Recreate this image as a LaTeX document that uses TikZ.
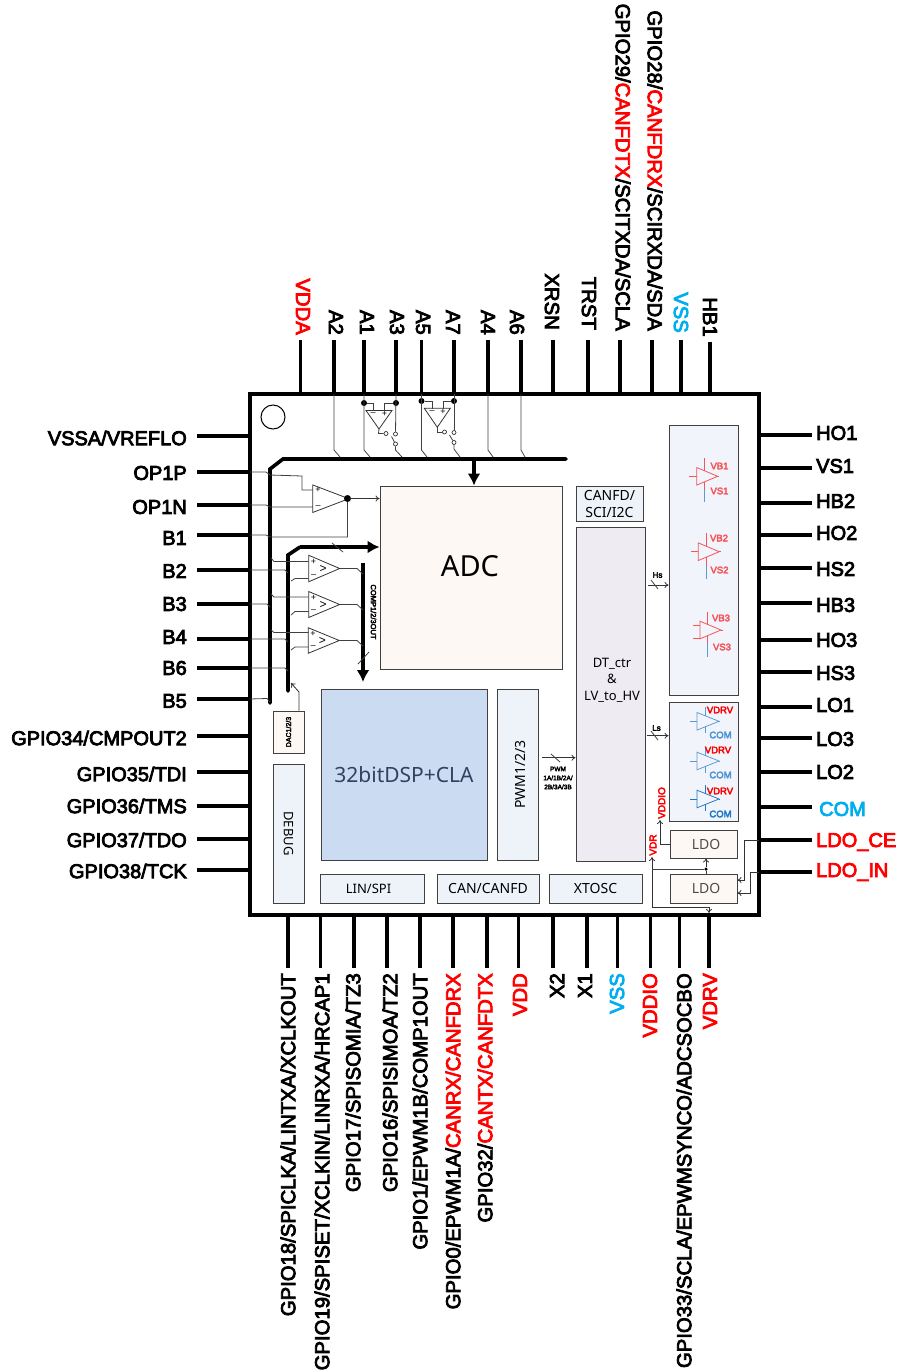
\documentclass[tikz,border=0pt]{standalone}
\usepackage{xcolor}
\usepackage{fontspec}
\usetikzlibrary{shapes.geometric,arrows.meta}
\setmainfont{Liberation Sans}
\newfontfamily\pinfont[FakeBold=4]{Liberation Sans}
\newfontfamily\blockfont{Noto Sans}
\definecolor{cream}{HTML}{FDF8F3}
\definecolor{pale}{HTML}{EEF3FA}
\definecolor{lilac}{HTML}{EEEBF3}
\definecolor{dspblue}{HTML}{CBDCF2}
\definecolor{dsptext}{HTML}{2F4260}
\definecolor{drvbox}{HTML}{F1F5FB}
\definecolor{pinred}{HTML}{FF0000}
\definecolor{pincyan}{HTML}{00AEEF}
\definecolor{hsred}{HTML}{F4565A}
\definecolor{lsblue}{HTML}{5B9BD5}
\definecolor{lsdeep}{HTML}{1F78C8}

\begin{document}
\begin{tikzpicture}[x=1pt,y=-1pt,
pinl/.style={font=\pinfont\fontsize{20}{22}\selectfont,anchor=east,inner xsep=10pt,inner ysep=0pt},
pinr/.style={font=\pinfont\fontsize{20}{22}\selectfont,anchor=west,inner xsep=4pt,inner ysep=0pt},
pint/.style={font=\pinfont\fontsize{20.3}{22}\selectfont,anchor=east,rotate=-90,inner xsep=5pt,inner ysep=0pt},
pinb/.style={font=\pinfont\fontsize{20.3}{22}\selectfont,anchor=east,rotate=90,inner xsep=5pt,inner ysep=0pt},
pin/.style={line width=3.4pt,draw=black},
blk/.style={draw=black!75,line width=0.9pt,inner sep=0pt,align=center,font=\blockfont\fontsize{14}{17}\selectfont},
txt/.style={inner sep=0pt,align=center,font=\blockfont\fontsize{13}{16.5}\selectfont},
tiny/.style={inner sep=0pt,align=center,font=\pinfont\fontsize{6.5}{9}\selectfont},
sgn/.style={inner sep=0pt,font=\fontsize{9}{9}\selectfont},
opamp/.style={isosceles triangle,isosceles triangle stretches,draw=black!80,line width=0.8pt,inner sep=0pt,outer sep=0pt,anchor=lower side},
drvhi/.style={opamp,draw=hsred,minimum height=21pt,minimum width=17.6pt},
drvlo/.style={opamp,draw=lsblue,minimum height=22pt,minimum width=17.6pt},
drvtxt/.style={inner sep=0pt,font=\pinfont\fontsize{9.5}{10}\selectfont},
dot/.style={circle,fill=black,inner sep=0pt,minimum size=#1},
term/.style={circle,draw=black!80,fill=white,line width=0.7pt,inner sep=0pt,minimum size=4pt},
wire/.style={draw=black!75,line width=0.8pt},
arr/.style={-{To[length=4pt,width=6pt]},draw=black!80,line width=0.8pt},
bus/.style={line width=3.6pt,draw=black,line cap=round},
busarr/.style={line width=3.6pt,draw=black,-{Latex[length=12pt,width=13pt]}}]
\useasboundingbox (0,0) rectangle (898,1371);

% package outline
\node[draw=black,line width=3.6pt,minimum width=509pt,minimum height=521pt,inner sep=0pt] (chip) at (504.5,654.5) {};
\node[circle,draw=black,line width=1pt,minimum size=24pt,inner sep=0pt] (mark) at (273,417) {};

% left pins
\node[pinl] (vssa) at (197,438) {VSSA/VREFLO}; \coordinate (vssap) at (250,436); \draw[pin] (vssa.east |- vssap) -- (vssap);
\node[pinl] (op1p) at (197,473) {OP1P}; \coordinate (op1pp) at (250,472); \draw[pin] (op1p.east |- op1pp) -- (op1pp);
\node[pinl] (op1n) at (197,507) {OP1N}; \coordinate (op1np) at (250,505); \draw[pin] (op1n.east |- op1np) -- (op1np);
\node[pinl] (b1) at (197,538) {B1}; \coordinate (b1p) at (250,535); \draw[pin] (b1.east |- b1p) -- (b1p);
\node[pinl] (b2) at (197,571) {B2}; \coordinate (b2p) at (250,570); \draw[pin] (b2.east |- b2p) -- (b2p);
\node[pinl] (b3) at (197,604) {B3}; \coordinate (b3p) at (250,604); \draw[pin] (b3.east |- b3p) -- (b3p);
\node[pinl] (b4) at (197,637) {B4}; \coordinate (b4p) at (250,639); \draw[pin] (b4.east |- b4p) -- (b4p);
\node[pinl] (b6) at (197,668) {B6}; \coordinate (b6p) at (250,668); \draw[pin] (b6.east |- b6p) -- (b6p);
\node[pinl] (b5) at (197,701) {B5}; \coordinate (b5p) at (250,699); \draw[pin] (b5.east |- b5p) -- (b5p);
\node[pinl] (gp34) at (197,738) {GPIO34/CMPOUT2}; \coordinate (gp34p) at (250,736); \draw[pin] (gp34.east |- gp34p) -- (gp34p);
\node[pinl] (gp35) at (197,774) {GPIO35/TDI}; \coordinate (gp35p) at (250,772); \draw[pin] (gp35.east |- gp35p) -- (gp35p);
\node[pinl] (gp36) at (197,806) {GPIO36/TMS}; \coordinate (gp36p) at (250,806); \draw[pin] (gp36.east |- gp36p) -- (gp36p);
\node[pinl] (gp37) at (197,840) {GPIO37/TDO}; \coordinate (gp37p) at (250,839); \draw[pin] (gp37.east |- gp37p) -- (gp37p);
\node[pinl] (gp38) at (197,871) {GPIO38/TCK}; \coordinate (gp38p) at (250,870); \draw[pin] (gp38.east |- gp38p) -- (gp38p);

% right pins
\node[pinr] (ho1) at (812,433) {HO1}; \coordinate (ho1p) at (759,435); \draw[pin] (ho1.west |- ho1p) -- (ho1p);
\node[pinr] (vs1) at (812,466) {VS1}; \coordinate (vs1p) at (759,468); \draw[pin] (vs1.west |- vs1p) -- (vs1p);
\node[pinr] (hb2) at (812,501) {HB2}; \coordinate (hb2p) at (759,503); \draw[pin] (hb2.west |- hb2p) -- (hb2p);
\node[pinr] (ho2) at (812,533) {HO2}; \coordinate (ho2p) at (759,535); \draw[pin] (ho2.west |- ho2p) -- (ho2p);
\node[pinr] (hs2) at (812,569) {HS2}; \coordinate (hs2p) at (759,568); \draw[pin] (hs2.west |- hs2p) -- (hs2p);
\node[pinr] (hb3) at (812,605) {HB3}; \coordinate (hb3p) at (759,603); \draw[pin] (hb3.west |- hb3p) -- (hb3p);
\node[pinr] (ho3) at (812,640) {HO3}; \coordinate (ho3p) at (759,640); \draw[pin] (ho3.west |- ho3p) -- (ho3p);
\node[pinr] (hs3) at (812,673) {HS3}; \coordinate (hs3p) at (759,672); \draw[pin] (hs3.west |- hs3p) -- (hs3p);
\node[pinr] (lo1) at (812,705) {LO1}; \coordinate (lo1p) at (759,707); \draw[pin] (lo1.west |- lo1p) -- (lo1p);
\node[pinr] (lo3) at (812,739) {LO3}; \coordinate (lo3p) at (759,738); \draw[pin] (lo3.west |- lo3p) -- (lo3p);
\node[pinr] (lo2) at (812,772) {LO2}; \coordinate (lo2p) at (759,772); \draw[pin] (lo2.west |- lo2p) -- (lo2p);
\node[pinr,text=pincyan,inner xsep=7pt] (comr) at (812,809) {COM}; \coordinate (comrp) at (759,807); \draw[pin] (comr.west |- comrp) -- (comrp);
\node[pinr,text=pinred] (ldoce) at (812,842) {LDO\_CE}; \coordinate (ldocep) at (759,840); \draw[pin] (ldoce.west |- ldocep) -- (ldocep);
\node[pinr,text=pinred] (ldoin) at (812,872) {LDO\_IN}; \coordinate (ldoinp) at (759,872); \draw[pin] (ldoin.west |- ldoinp) -- (ldoinp);

% top pins
\node[pint,text=pinred] (vdda) at (303,340) {VDDA}; \coordinate (vddap) at (300.5,394); \draw[pin] (vdda.east -| vddap) -- (vddap);
\node[pint] (a2) at (336,340) {A2}; \coordinate (a2p) at (334,394); \draw[pin] (a2.east -| a2p) -- (a2p);
\node[pint] (a1) at (367,340) {A1}; \coordinate (a1p) at (364,394); \draw[pin] (a1.east -| a1p) -- (a1p);
\node[pint] (a3) at (397,340) {A3}; \coordinate (a3p) at (396,394); \draw[pin] (a3.east -| a3p) -- (a3p);
\node[pint] (a5) at (423,340) {A5}; \coordinate (a5p) at (421.5,394); \draw[pin] (a5.east -| a5p) -- (a5p);
\node[pint] (a7) at (453,340) {A7}; \coordinate (a7p) at (454,394); \draw[pin] (a7.east -| a7p) -- (a7p);
\node[pint] (a4) at (488,340) {A4}; \coordinate (a4p) at (488,394); \draw[pin] (a4.east -| a4p) -- (a4p);
\node[pint] (a6) at (517,340) {A6}; \coordinate (a6p) at (521,394); \draw[pin] (a6.east -| a6p) -- (a6p);
\node[pint] (xrsn) at (552,335) {XRSN}; \coordinate (xrsnp) at (553,394); \draw[pin] (xrsn.east -| xrsnp) ++(0,5) -- (xrsnp);
\node[pint] (trst) at (589,335) {TRST}; \coordinate (trstp) at (588,394); \draw[pin] (trst.east -| trstp) ++(0,5) -- (trstp);
\node[pint] (gp29) at (623,336) {GPIO29/\textcolor{pinred}{CANFDTX}/SCITXDA/SCLA}; \coordinate (gp29p) at (620,394); \draw[pin] (gp29.east -| gp29p) ++(0,4) -- (gp29p);
\node[pint] (gp28) at (655,336) {GPIO28/\textcolor{pinred}{CANFDRX}/SCIRXDA/SDA}; \coordinate (gp28p) at (652,394); \draw[pin] (gp28.east -| gp28p) ++(0,4) -- (gp28p);
\node[pint,text=pincyan] (vsst) at (681,338) {VSS}; \coordinate (vsstp) at (681,394); \draw[pin] (vsst.east -| vsstp) ++(0,2) -- (vsstp);
\node[pint] (hb1) at (710,342) {HB1}; \coordinate (hb1p) at (710,394); \draw[pin] (hb1.east -| hb1p) -- (hb1p);

% bottom pins
\node[pinb] (gp18) at (288,968) {GPIO18/SPICLKA/LINTXA/XCLKOUT}; \coordinate (gp18p) at (288,915); \draw[pin] (gp18p) -- (gp18.east -| gp18p);
\node[pinb] (gp19) at (322,968) {GPIO19/SPISET/XCLKIN/LINRXA/HRCAP1}; \coordinate (gp19p) at (320.5,915); \draw[pin] (gp19p) -- (gp19.east -| gp19p);
\node[pinb] (gp17) at (353,968) {GPIO17/SPISOMIA/TZ3}; \coordinate (gp17p) at (354,915); \draw[pin] (gp17p) -- (gp17.east -| gp17p);
\node[pinb] (gp16) at (390,968) {GPIO16/SPISIMOA/TZ2}; \coordinate (gp16p) at (387,915); \draw[pin] (gp16p) -- (gp16.east -| gp16p);
\node[pinb] (gp1) at (420,968) {GPIO1/EPWM1B/COMP1OUT}; \coordinate (gp1p) at (420,915); \draw[pin] (gp1p) -- (gp1.east -| gp1p);
\node[pinb] (gp0) at (453,968) {GPIO0/EPWM1A/\textcolor{pinred}{CANRX/CANFDRX}}; \coordinate (gp0p) at (453,915); \draw[pin] (gp0p) -- (gp0.east -| gp0p);
\node[pinb] (gp32) at (485,968) {GPIO32/\textcolor{pinred}{CANTX/CANFDTX}}; \coordinate (gp32p) at (487,915); \draw[pin] (gp32p) -- (gp32.east -| gp32p);
\node[pinb,text=pinred] (vdd) at (520,968) {VDD}; \coordinate (vddp) at (518.5,915); \draw[pin] (vddp) -- (vdd.east -| vddp);
\node[pinb] (x2) at (557,968) {X2}; \coordinate (x2p) at (553,915); \draw[pin] (x2p) -- (x2.east -| x2p);
\node[pinb] (x1) at (585,968) {X1}; \coordinate (x1p) at (587,915); \draw[pin] (x1p) -- (x1.east -| x1p);
\node[pinb,text=pincyan] (vssb) at (617,968) {VSS}; \coordinate (vssbp) at (617.5,915); \draw[pin] (vssbp) -- (vssb.east -| vssbp);
\node[pinb,text=pinred] (vddio) at (650,968) {VDDIO}; \coordinate (vddiop) at (650.5,915); \draw[pin] (vddiop) -- (vddio.east -| vddiop);
\node[pinb] (gp33) at (684,968) {GPIO33/SCLA/EPWMSYNCO/ADCSOCBO}; \coordinate (gp33p) at (679.5,915); \draw[pin] (gp33p) -- (gp33.east -| gp33p);
\node[pinb,text=pinred] (vdrv) at (710,968) {VDRV}; \coordinate (vdrvp) at (709,915); \draw[pin] (vdrvp) -- (vdrv.east -| vdrvp);

% blocks
\node[blk,fill=cream,minimum width=182pt,minimum height=183pt] (adc) at (471,577.5) {};
\node[txt,font=\blockfont\fontsize{29}{32}\selectfont] (adctxt) at (470,566) {ADC};
\node[blk,fill=dspblue,minimum width=166pt,minimum height=171pt,text=dsptext,font=\blockfont\fontsize{21}{24}\selectfont] (dsp) at (404,774.5) {32bitDSP+CLA};
\node[blk,fill=pale,minimum width=41pt,minimum height=171pt] (pwm) at (517.5,774.5) {\hspace*{5pt}\rotatebox{90}{PWM1/2/3}};
\node[blk,fill=cream,minimum width=31pt,minimum height=42pt,font=\pinfont\fontsize{7}{8}\selectfont] (dac) at (288.5,732) {\rotatebox{90}{DAC1/2/3}};
\node[blk,fill=pale,minimum width=31pt,minimum height=139pt,font=\blockfont\fontsize{13}{15}\selectfont] (debug) at (288.5,833.5) {\rotatebox{-90}{DEBUG}};
\node[blk,fill=pale,minimum width=67pt,minimum height=35pt] (canfd) at (609.5,503.5) {CANFD/\\SCI/I2C};
\node[blk,fill=lilac,minimum width=69pt,minimum height=334pt] (dtctr) at (610.5,694) {};
\node[txt] (dttxt) at (612,680) {DT\_ctr\\\&\\LV\_to\_HV};
\node[blk,fill=pale,minimum width=104pt,minimum height=29pt,font=\blockfont\fontsize{13}{15}\selectfont] (lin) at (372,888.5) {LIN/SPI\hspace*{7pt}};
\node[blk,fill=pale,minimum width=102pt,minimum height=29pt] (can) at (488,888.5) {CAN/CANFD};
\node[blk,fill=pale,minimum width=93pt,minimum height=29pt] (xtosc) at (595.5,888.5) {XTOSC};
\node[blk,fill=drvbox,minimum width=69pt,minimum height=270pt] (hsbox) at (703.5,560) {};
\node[blk,fill=drvbox,minimum width=69pt,minimum height=119pt] (lsbox) at (703.5,761.5) {};
\node[blk,fill=cream,minimum width=67pt,minimum height=28pt,text=black!70] (ldoa) at (703.5,844) {\hspace*{5pt}LDO};
\node[blk,fill=cream,minimum width=67pt,minimum height=29pt,text=black!70] (ldob) at (703.5,888.5) {\hspace*{5pt}LDO};

% analog buses
\coordinate (busa) at (270,703);
\coordinate (busb) at (270,469);
\coordinate (busc) at (283,459);
\coordinate (busd) at (566,459);
\draw[bus] (busa) -- (busb) -- (busc) -- (busd);
\draw[busarr] (adc.north -| 474,0) ++(0,-27) -- (adc.north -| 474,0);
\coordinate (cmpa) at (288,691);
\coordinate (cmpb) at (288,555);
\coordinate (cmpc) at (300,547);
\draw[bus] (cmpa) -- (cmpb) -- (cmpc);
\draw[busarr] (cmpc) -- (adc.west |- cmpc);
\draw[wire] (332,543) -- (343,552);
\coordinate (outa) at (363,563);
\draw[busarr] (outa) -- (363,682);
\draw[wire] (358,664) -- (369,652);
\node[tiny,rotate=-90,font=\pinfont\fontsize{7.5}{9}\selectfont] (outtxt) at (373.5,612) {COMP1/2/3OUT};
\draw[arr] (dac.north -| 299,0) -- (299,692) -- (291,683);

% top amplifiers and switches
\node[opamp,shape border rotate=-90,minimum width=26pt,minimum height=18.5pt] (amp1) at (379,410.5) {};
\node[opamp,shape border rotate=-90,minimum width=26pt,minimum height=19pt] (amp2) at (437.3,408.3) {};
\node[dot=6pt] (amp1m) at (364,403) {};
\node[dot=6pt] (amp1p) at (396,403) {};
\node[dot=6pt] (amp2m) at (421.5,401) {};
\node[dot=6pt] (amp2p) at (454,401) {};
\node[sgn] (amp1plus) at (384.5,414) {+};
\node[sgn] (amp1minus) at (373,414) {--};
\node[sgn] (amp2plus) at (443,412) {+};
\node[sgn] (amp2minus) at (432,412) {--};
\draw[wire] (amp1m) -- (373,403) -- (373,411);
\draw[wire] (amp1p) -- (384,403) -- (384,411);
\draw[wire] (amp2m) -- (432,401) -- (432,409);
\draw[wire] (amp2p) -- (443,401) -- (443,409);
\node[term] (sw1o) at (386,433.5) {};
\node[term] (sw1a) at (395.5,434) {};
\node[term] (sw1b) at (395.5,444) {};
\node[term] (sw2o) at (444.5,432) {};
\node[term] (sw2a) at (454,432.5) {};
\node[term] (sw2b) at (454,442.5) {};
\draw[wire] (amp1.apex) -- (378.5,433.5) -- (sw1o);
\draw[wire] (amp2.apex) -- (437.3,432) -- (sw2o);
\draw[wire] (391.5,436.5) -- (sw1b);
\draw[wire] (449.5,435) -- (sw2b);
\draw[wire] (a3p) -- (sw1a);
\draw[wire] (a7p) -- (sw2a);
\draw[wire] (sw1b) -- (395.5,450) -- (402,457);
\draw[wire] (sw2b) -- (454,449) -- (460,457);
\draw[wire] (a2p) -- (334,450) -- (340,457);
\draw[wire] (a1p) -- (364,450) -- (370,457);
\draw[wire] (a5p) -- (421.5,450) -- (427,457);
\draw[wire] (a4p) -- (488,450) -- (493,457);
\draw[wire] (a6p) -- (521,450) -- (525,457);

% OP1 amplifier
\node[opamp,minimum height=36pt,minimum width=27.5pt] (op1) at (312.8,498.7) {};
\node[sgn] (op1plus) at (318,490) {+};
\node[sgn] (op1minus) at (318,507.5) {--};
\node[dot=7pt] (op1out) at (347.5,498.5) {};
\draw[wire] (op1.apex) -- (op1out);
\draw[arr] (op1out) -- (adc.west |- op1out);
\draw[wire] (op1pp) -- (266,472) -- (270,475) -- (302,476) -- (302,490) -- (op1.lower side |- 302,490);
\draw[wire] (op1np) -- (266,505) -- (270,507) -- (op1.lower side |- 270,507);
\draw[wire] (b1p) -- (266,535) -- (270,537) -- (347.5,537) -- (op1out);

% comparators
\node[opamp,minimum height=31pt,minimum width=26.5pt] (cmp1) at (308.7,568.5) {};
\node[opamp,minimum height=31pt,minimum width=26pt] (cmp2) at (308.7,604.5) {};
\node[opamp,minimum height=31pt,minimum width=25.5pt] (cmp3) at (308.3,640.5) {};
\node[sgn] (cmp1plus) at (313.5,562) {+};
\node[sgn] (cmp1minus) at (313.5,576.5) {--};
\node[sgn] (cmp2plus) at (313.5,597.5) {+};
\node[sgn] (cmp2minus) at (313.5,611.5) {--};
\node[sgn] (cmp3plus) at (313,633.5) {+};
\node[sgn] (cmp3minus) at (313,647.5) {--};
\node[sgn,font=\fontsize{12}{12}\selectfont] (cmp1hys) at (323,569) {>};
\node[sgn,font=\fontsize{12}{12}\selectfont] (cmp2hys) at (323,605) {>};
\node[sgn,font=\fontsize{12}{12}\selectfont] (cmp3hys) at (322.5,641) {>};
\draw[wire] (271,558) -- (274,561.5) -- (cmp1.lower side |- 274,561.5);
\draw[wire] (291,581) -- (295,578.5) -- (cmp1.lower side |- 295,578.5);
\draw[wire] (271,594) -- (274,597) -- (cmp2.lower side |- 274,597);
\draw[wire] (291,615) -- (295,611.5) -- (cmp2.lower side |- 295,611.5);
\draw[wire] (271,630) -- (274,632.5) -- (cmp3.lower side |- 274,632.5);
\draw[wire] (291,650) -- (295,647) -- (cmp3.lower side |- 295,647);
\draw[wire] (b2p) -- (285,570) -- (288,573);
\draw[wire] (b3p) -- (267,604) -- (270,607);
\draw[wire] (b4p) -- (285,639) -- (288,642);
\draw[wire] (b6p) -- (285,668) -- (288,671);
\draw[wire] (b5p) -- (267,698.5) -- (270,702);
\draw[wire] (cmp1.apex) -- (357,568.5) -- (363,574);
\draw[wire] (cmp2.apex) -- (357,604.5) -- (363,610);
\draw[wire] (cmp3.apex) -- (357,640.5) -- (363,646);

% high side drivers
\node[drvhi] (hv1) at (696.7,476.3) {};
\node[drvhi] (hv2) at (698.3,551.7) {};
\node[drvhi] (hv3) at (700,630) {};
\draw[hsred,line width=0.8pt] (689.3,476.3) -- (hv1.lower side) (hv1.apex) -- (718,476.3) (704.3,458) -- (704.3,471) (704.3,482) -- (704.3,490);
\draw[hsred,line width=0.8pt] (691,551.7) -- (hv2.lower side) (hv2.apex) -- (721,551.7) (706,533) -- (706,546) (706,557) -- (706,566);
\draw[hsred,line width=0.8pt] (693,625) -- (700,625) (693,638) -- (700,638) (hv3.apex) -- (722.7,630) (707.7,612) -- (707.7,625) (707.7,636) -- (707.7,643);
\draw[lsblue,line width=0.9pt] (704.3,490) -- (704.3,502) (706,566) -- (706,579) (707.7,643) -- (707.7,657);
\node[drvtxt,text=hsred] (vb1) at (719.5,466) {VB1};
\node[drvtxt,text=hsred] (vs1t) at (719.5,491) {VS1};
\node[drvtxt,text=hsred] (vb2) at (719,538) {VB2};
\node[drvtxt,text=hsred] (vs2t) at (719.5,570) {VS2};
\node[drvtxt,text=hsred] (vb3) at (721,618) {VB3};
\node[drvtxt,text=hsred] (vs3t) at (722,647) {VS3};

% low side drivers
\node[drvlo] (lv1) at (697,721.3) {};
\node[drvlo] (lv2) at (697,761) {};
\node[drvlo,draw=lsdeep] (lv3) at (697,799) {};
\draw[lsblue,line width=0.8pt] (690,721.3) -- (lv1.lower side) (lv1.apex) -- (719.7,721.3) (705.3,726) -- (705.3,733) (705.3,707) -- (705.3,716);
\draw[lsblue,line width=0.8pt] (690,761) -- (lv2.lower side) (lv2.apex) -- (719.7,761) (705.3,766) -- (705.3,773) (705.3,747) -- (705.3,756);
\draw[lsdeep,line width=0.8pt] (690,799) -- (lv3.lower side) (lv3.apex) -- (719.7,799) (705.3,804) -- (705.3,811) (705.3,785) -- (705.3,794);
\node[drvtxt,text=pinred] (vdrv1) at (720,710) {VDRV};
\node[drvtxt,text=lsdeep!80] (com1) at (720.5,735) {COM};
\node[drvtxt,text=pinred] (vdrv2) at (718,750) {VDRV};
\node[drvtxt,text=lsdeep!80] (com2) at (720.5,775) {COM};
\node[drvtxt,text=pinred] (vdrv3) at (720,791) {VDRV};
\node[drvtxt,text=lsdeep] (com3) at (720.5,814) {COM};

% signal bundles
\coordinate (hsa) at (648.3,585);
\draw[arr] (hsa) -- (hsbox.west |- hsa);
\draw[wire] (651,580) -- (658,589);
\node[tiny,font=\pinfont\fontsize{8}{9}\selectfont] (hstxt) at (657.5,575) {Hs};
\coordinate (lsa) at (647,735.7);
\draw[arr] (lsa) -- (lsbox.west |- lsa);
\draw[wire] (651,731) -- (658,740);
\node[tiny,font=\pinfont\fontsize{8}{9}\selectfont] (lstxt) at (656.5,728) {Ls};
\coordinate (pwma) at (542,757.7);
\draw[arr] (pwma) -- (dtctr.west |- pwma);
\draw[wire] (551,754) -- (560,762);
\node[tiny] (pwmtxt) at (558,778) {PWM\\1A/1B/2A/\\2B/3A/3B};

% supply wiring
\coordinate (vdra) at (652,869);
\coordinate (vdrb) at (652,907);
\node[dot=3.5pt] (ldodot) at (706,869) {};
\draw[arr] (ldoa.west) -- (660,844) -- (660,820);
\draw[arr] (vdrb) -- (652,857);
\draw[wire] (vdra) -- (ldodot);
\draw[wire] (ldodot) -- (ldob.north -| ldodot);
\draw[arr] (ldodot) -- (ldoa.south -| ldodot);
\draw[arr] (vdrb) -- (709,907) -- (709,913);
\draw[arr] (ldocep) -- (744,840) -- (744,880) -- (ldob.east |- 744,880);
\draw[arr] (ldoinp) -- (750.7,872) -- (750.7,893) -- (ldob.east |- 750,893);
\node[tiny,rotate=90,text=pinred,font=\pinfont\fontsize{10}{11}\selectfont] (vddiot) at (661.7,803) {VDDIO};
\node[tiny,rotate=90,text=pinred,font=\pinfont\fontsize{10}{11}\selectfont] (vdrt) at (653,845) {VDR};
\end{tikzpicture}
\end{document}
